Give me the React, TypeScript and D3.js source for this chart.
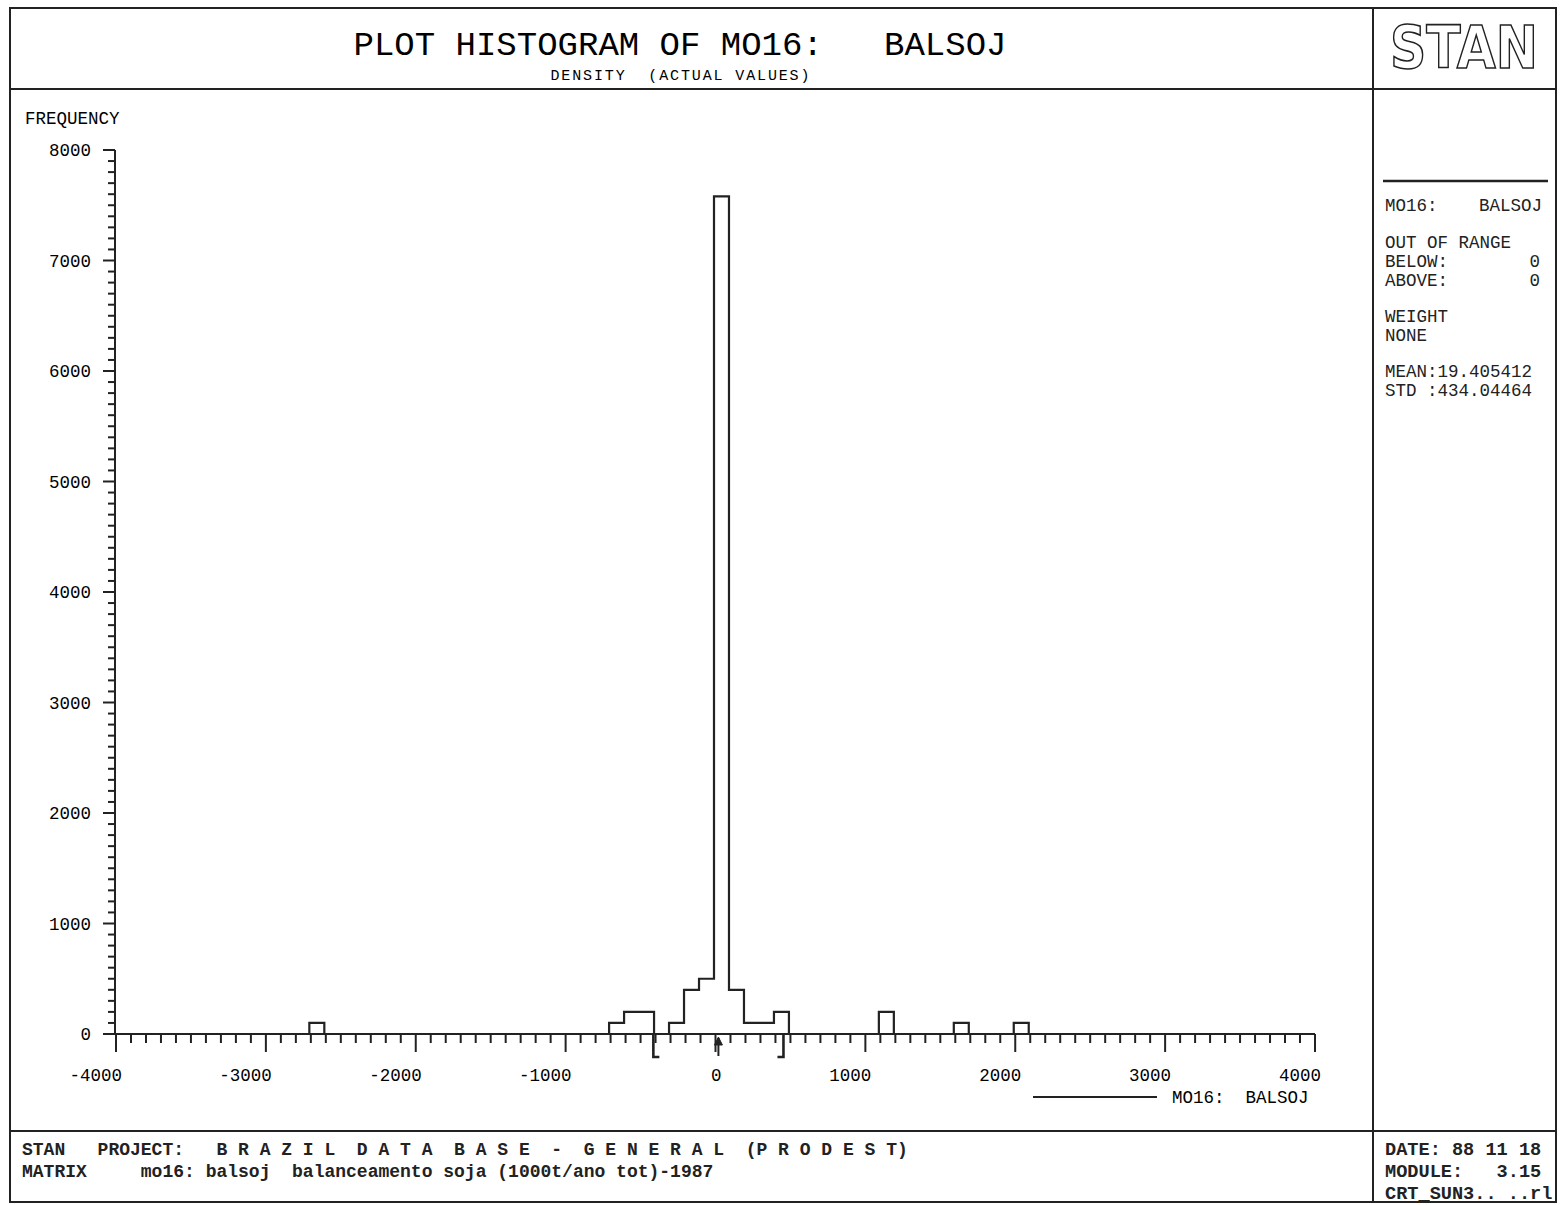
import * as d3 from "d3";

// histogram bins: lower edge of each 100-wide bin and its frequency (only non-empty bins)
const binWidth = 100;
const binStarts = [-2710, -710, -610, -510, -310, -210, -110, -10, 90, 190, 290, 390, 1090, 1590, 1990];
const binCounts = [100, 100, 200, 200, 100, 400, 500, 7580, 400, 100, 100, 200, 200, 100, 100];

const xTickLabels = [-4000, -3000, -2000, -1000, 0, 1000, 2000, 3000, 4000];
const yTickLabels = [0, 1000, 2000, 3000, 4000, 5000, 6000, 7000, 8000];

const mean = 19.405412;
const std = 434.04464;

const panelLines = [
  { label: "OUT OF RANGE", value: "" },
  { label: "BELOW:", value: "0" },
  { label: "ABOVE:", value: "0" },
];

const footerLeft = [
  "STAN   PROJECT:   B R A Z I L  D A T A  B A S E  -  G E N E R A L  (P R O D E S T)",
  "MATRIX     mo16: balsoj  balanceamento soja (1000t/ano tot)-1987",
];
const footerRight = ["DATE: 88 11 18", "MODULE:   3.15", "CRT_SUN3.. ..rl"];

const W = 1560;
const H = 1205;
const mono = "'Courier New', 'Liberation Mono', monospace";
const pre = { whiteSpace: "pre" as const };

export default function App() {
  const x = d3.scaleLinear().domain([-4000, 4000]).range([116, 1315]);
  const y = d3.scaleLinear().domain([0, 8000]).range([1034, 150]);
  const y0 = y(0);

  const minorX = x.ticks(80);
  const minorY = y.ticks(80);

  // outline of the histogram as one step line
  const pts: [number, number][] = [[-4000, 0]];
  binStarts.forEach((s, i) => {
    pts.push([s, binCounts[i]]);
    if (binStarts[i + 1] !== s + binWidth) pts.push([s + binWidth, 0]);
  });
  pts.push([4000, 0]);
  const step = d3.line<[number, number]>()
    .x(d => x(d[0]))
    .y(d => y(d[1]))
    .curve(d3.curveStepAfter);

  const xm = x(mean);
  const xlo = x(mean - std);
  const xhi = x(mean + std);

  return (
    <svg width={W} height={H} style={{ position: "absolute", left: 0, top: 0, background: "#fff" }}
      fontFamily={mono}>
      {/* frame */}
      <g fill="none" stroke="#222" strokeWidth={2}>
        <rect x={10} y={8} width={1546} height={1194} />
        <line x1={1373} y1={8} x2={1373} y2={1202} />
        <line x1={10} y1={89} x2={1556} y2={89} />
        <line x1={10} y1={1131} x2={1556} y2={1131} />
        <line x1={1383} y1={181} x2={1548} y2={181} strokeWidth={2.5} />
      </g>

      {/* title */}
      <text x={680} y={55} fontSize={34} textAnchor="middle" xmlSpace="preserve" style={pre}>
        {"PLOT HISTOGRAM OF MO16:   BALSOJ"}
      </text>
      <text x={680} y={80} fontSize={15} textAnchor="middle" xmlSpace="preserve" style={pre}
        textLength={259} lengthAdjust="spacing">
        {"DENSITY  (ACTUAL VALUES)"}
      </text>

      {/* logo */}
      <text x={1390} y={68} fontSize={58} fontFamily="'DejaVu Sans', sans-serif" fontWeight="bold"
        fill="#fff" stroke="#222" strokeWidth={1.6} textLength={148} lengthAdjust="spacingAndGlyphs">
        STAN
      </text>

      {/* right panel */}
      <g fontSize={17.5} fill="#222">
        <text x={1385} y={211}>MO16:</text>
        <text x={1542} y={211} textAnchor="end">BALSOJ</text>
        {panelLines.map((d, i) => (
          <g key={i}>
            <text x={1385} y={248 + i * 19}>{d.label}</text>
            <text x={1540} y={248 + i * 19} textAnchor="end">{d.value}</text>
          </g>
        ))}
        <text x={1385} y={322}>WEIGHT</text>
        <text x={1385} y={341}>NONE</text>
        <text x={1385} y={377} xmlSpace="preserve" style={pre}>{"MEAN:" + mean.toFixed(6)}</text>
        <text x={1385} y={396} xmlSpace="preserve" style={pre}>{"STD :" + std.toFixed(5)}</text>
      </g>

      {/* y axis */}
      <text x={25} y={124} fontSize={17.5}>FREQUENCY</text>
      <g stroke="#222" strokeWidth={2}>
        <line x1={115} y1={y(8000)} x2={115} y2={y0} />
        {minorY.map((v) => (
          <line key={v} x1={yTickLabels.includes(v) ? 103 : 108} x2={115} y1={y(v)} y2={y(v)} />
        ))}
      </g>
      <g fontSize={17.5} textAnchor="end">
        {yTickLabels.map((v) => (
          <text key={v} x={91} y={y(v) + 6}>{v}</text>
        ))}
      </g>

      {/* x axis */}
      <g stroke="#222" strokeWidth={2}>
        <line x1={x(-4000)} y1={y0} x2={x(4000)} y2={y0} />
        {minorX.map((v) => (
          <line key={v} x1={x(v)} x2={x(v)} y1={y0} y2={xTickLabels.includes(v) ? y0 + 18 : y0 + 9} />
        ))}
      </g>
      <g fontSize={17.5} textAnchor="end">
        {xTickLabels.map((v) => (
          <text key={v} x={x(v) + 6} y={1081}>{v}</text>
        ))}
      </g>

      {/* histogram */}
      <path d={step(pts) || ""} fill="none" stroke="#222" strokeWidth={2.2} />

      {/* mean and +/- std markers */}
      <g fill="none" stroke="#222" strokeWidth={2.2}>
        <path d={`M${xlo},${y0}V${y0 + 23}H${xlo + 6}`} strokeWidth={2.6} />
        <path d={`M${xhi},${y0}V${y0 + 23}H${xhi - 6}`} strokeWidth={2.6} />
        <line x1={xm} y1={y0 + 22} x2={xm} y2={y0 + 4} strokeWidth={2} />
        <path d={`M${xm - 4},${y0 + 11}L${xm},${y0 + 3}L${xm + 4},${y0 + 11}Z`} fill="#222" strokeWidth={1} />
      </g>

      {/* legend */}
      <line x1={1033} x2={1157} y1={1097} y2={1097} stroke="#222" strokeWidth={2} />
      <text x={1172} y={1103} fontSize={17.5} xmlSpace="preserve" style={pre}>{"MO16:  BALSOJ"}</text>

      {/* footer */}
      <g fontSize={18} fontWeight="bold" fill="#222">
        {footerLeft.map((t, i) => (
          <text key={t} x={22} y={1155 + i * 22} xmlSpace="preserve" style={pre}>{t}</text>
        ))}
      </g>
      <g fontSize={18.6} fontWeight="bold" fill="#222">
        {footerRight.map((t, i) => (
          <text key={t} x={1385} y={1155 + i * 22} xmlSpace="preserve" style={pre}>{t}</text>
        ))}
      </g>
    </svg>
  );
}
